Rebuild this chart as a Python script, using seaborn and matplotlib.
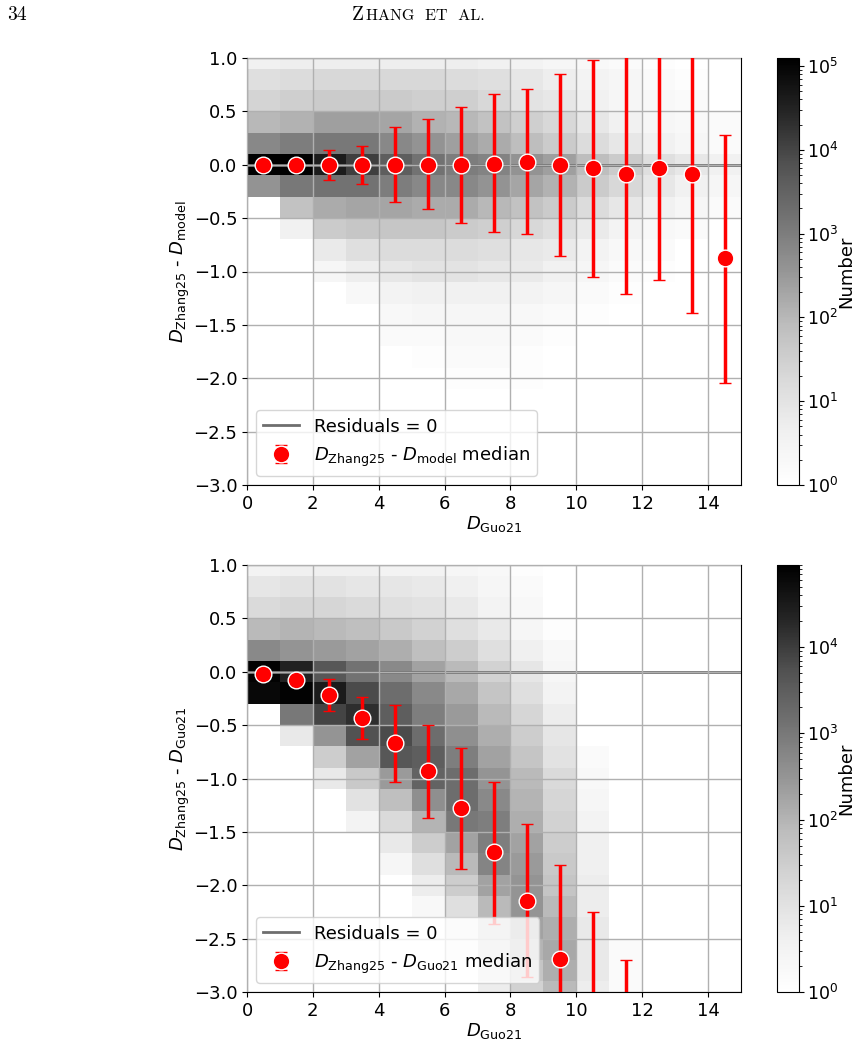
import numpy as np
import pandas as pd
import matplotlib
matplotlib.use("Agg")
import matplotlib.pyplot as plt
import seaborn as sns
from matplotlib.colors import LogNorm

# ================= data =================
D_GUO21_BINS = [0.5, 1.5, 2.5, 3.5, 4.5, 5.5, 6.5, 7.5, 8.5, 9.5, 10.5, 11.5, 12.5, 13.5, 14.5]

# upper panel: D_Zhang25 - D_model
MODEL_MEDIAN = [0.0, 0.0, 0.0, 0.0, 0.0, 0.0, 0.0, 0.01, 0.03, 0.0, -0.03, -0.09, -0.03, -0.09, -0.87]
MODEL_LOW = [-0.05, -0.05, -0.14, -0.18, -0.35, -0.415, -0.55, -0.63, -0.65, -0.855, -1.05, -1.21, -1.08, -1.39, -2.04]
MODEL_HIGH = [0.05, 0.05, 0.14, 0.18, 0.35, 0.43, 0.54, 0.66, 0.71, 0.85, 0.98, 1.3, 1.3, 1.3, 0.28]

# lower panel: D_Zhang25 - D_Guo21
GUO21_MEDIAN = [-0.02, -0.075, -0.22, -0.43, -0.67, -0.93, -1.28, -1.69, -2.145, -2.69, -3.3, -3.6]
GUO21_LOW = [-0.06, -0.12, -0.365, -0.63, -1.03, -1.37, -1.85, -2.36, -2.86, -3.5, -3.9, -4.2]
GUO21_HIGH = [0.02, -0.03, -0.07, -0.24, -0.31, -0.50, -0.715, -1.03, -1.43, -1.81, -2.25, -2.70]

# 2D histogram, log10(number) per cell; columns are D_Guo21 = 0-1, 1-2, ... 14-15
HIST_X_EDGES = [0, 1, 2, 3, 4, 5, 6, 7, 8, 9, 10, 11, 12, 13, 14, 15]
HIST_Y_CENTRES = [1.0, 0.8, 0.6, 0.4, 0.2, 0.0, -0.2, -0.4, -0.6, -0.8, -1.0,
                  -1.2, -1.4, -1.6, -1.8, -2.0, -2.2, -2.4, -2.6, -2.8, -3.0]

MODEL_LOG_COUNTS = [
    [0.6, 0.7, 0.7, 0.7, 0.7, 0.7, 0.7, 0.6, 0.5, 0.4, 0.3, 0.2, 0.1, 0.0, 0.0],
    [1.1, 1.2, 1.3, 1.3, 1.3, 1.3, 1.2, 1.1, 0.9, 0.7, 0.5, 0.4, 0.2, 0.1, 0.0],
    [1.4, 1.5, 1.6, 1.6, 1.6, 1.5, 1.5, 1.3, 1.0, 0.9, 0.6, 0.4, 0.3, 0.2, 0.0],
    [2.0, 2.1, 2.4, 2.4, 2.3, 2.1, 2.0, 1.8, 1.5, 1.3, 0.9, 0.6, 0.4, 0.3, 0.2],
    [2.8, 3.0, 3.1, 3.1, 2.8, 2.6, 2.4, 2.2, 1.9, 1.6, 1.2, 0.9, 0.6, 0.4, 0.2],
    [5.1, 5.1, 4.6, 4.1, 3.6, 3.2, 3.0, 2.9, 2.6, 2.4, 1.9, 1.6, 1.1, 0.9, 0.6],
    [2.6, 3.1, 3.2, 3.2, 3.0, 2.8, 2.8, 2.6, 2.3, 2.1, 1.6, 1.3, 0.9, 0.6, 0.4],
    [0.0, 1.8, 2.2, 2.3, 2.3, 2.2, 2.2, 2.0, 1.8, 1.6, 1.2, 0.9, 0.6, 0.4, 0.2],
    [0.0, 0.6, 1.6, 1.7, 1.7, 1.7, 1.6, 1.5, 1.3, 1.1, 0.8, 0.5, 0.3, 0.2, 0.0],
    [0.0, 0.0, 0.8, 1.1, 1.2, 1.2, 1.2, 1.1, 0.9, 0.8, 0.5, 0.3, 0.2, 0.0, 0.0],
    [0.0, 0.0, 0.4, 0.7, 0.9, 1.0, 1.0, 0.9, 0.8, 0.6, 0.4, 0.2, 0.1, 0.0, 0.0],
    [0.0, 0.0, 0.0, 0.3, 0.5, 0.6, 0.6, 0.6, 0.5, 0.4, 0.2, 0.1, 0.0, 0.0, 0.0],
    [0.0, 0.0, 0.0, 0.0, 0.3, 0.4, 0.4, 0.4, 0.3, 0.2, 0.1, 0.0, 0.0, 0.0, 0.0],
    [0.0, 0.0, 0.0, 0.0, 0.2, 0.2, 0.3, 0.3, 0.2, 0.1, 0.0, 0.0, 0.0, 0.0, 0.0],
    [0.0, 0.0, 0.0, 0.0, 0.0, 0.1, 0.2, 0.2, 0.1, 0.0, 0.0, 0.0, 0.0, 0.0, 0.0],
    [0.0, 0.0, 0.0, 0.0, 0.0, 0.0, 0.1, 0.1, 0.1, 0.0, 0.0, 0.0, 0.0, 0.0, 0.0],
    [0.0] * 15,
    [0.0] * 15,
    [0.0] * 15,
    [0.0] * 15,
    [0.0] * 15,
]

GUO21_LOG_COUNTS = [
    [0.5, 0.6, 0.6, 0.6, 0.5, 0.5, 0.4, 0.3, 0.1, 0.0, 0.0, 0.0, 0.0, 0.0, 0.0],
    [0.9, 1.0, 1.0, 0.9, 0.9, 0.8, 0.6, 0.4, 0.2, 0.0, 0.0, 0.0, 0.0, 0.0, 0.0],
    [1.2, 1.3, 1.3, 1.2, 1.1, 1.0, 0.8, 0.5, 0.3, 0.0, 0.0, 0.0, 0.0, 0.0, 0.0],
    [1.9, 2.0, 1.9, 1.8, 1.6, 1.4, 1.1, 0.8, 0.4, 0.1, 0.0, 0.0, 0.0, 0.0, 0.0],
    [2.7, 2.5, 2.4, 2.3, 2.1, 1.8, 1.5, 1.1, 0.6, 0.3, 0.0, 0.0, 0.0, 0.0, 0.0],
    [4.9, 4.4, 3.6, 3.1, 2.7, 2.3, 1.9, 1.4, 0.9, 0.4, 0.0, 0.0, 0.0, 0.0, 0.0],
    [4.8, 4.9, 4.5, 3.8, 3.2, 2.7, 2.2, 1.7, 1.1, 0.5, 0.0, 0.0, 0.0, 0.0, 0.0],
    [0.0, 3.0, 3.9, 4.2, 3.5, 2.9, 2.4, 1.9, 1.3, 0.7, 0.0, 0.0, 0.0, 0.0, 0.0],
    [0.0, 0.8, 2.5, 3.7, 3.8, 3.2, 2.6, 2.1, 1.5, 0.9, 0.0, 0.0, 0.0, 0.0, 0.0],
    [0.0, 0.0, 1.5, 2.3, 3.6, 3.5, 2.9, 2.3, 1.7, 1.0, 0.2, 0.0, 0.0, 0.0, 0.0],
    [0.0, 0.0, 0.8, 1.6, 2.4, 3.4, 3.2, 2.5, 1.9, 1.2, 0.3, 0.0, 0.0, 0.0, 0.0],
    [0.0, 0.0, 0.0, 1.0, 1.8, 2.6, 3.2, 2.7, 2.0, 1.3, 0.4, 0.0, 0.0, 0.0, 0.0],
    [0.0, 0.0, 0.0, 0.5, 1.2, 2.0, 3.0, 2.9, 2.1, 1.4, 0.5, 0.0, 0.0, 0.0, 0.0],
    [0.0, 0.0, 0.0, 0.0, 0.8, 1.5, 2.3, 2.9, 2.3, 1.5, 0.6, 0.0, 0.0, 0.0, 0.0],
    [0.0, 0.0, 0.0, 0.0, 0.4, 1.1, 1.9, 2.8, 2.4, 1.6, 0.6, 0.0, 0.0, 0.0, 0.0],
    [0.0, 0.0, 0.0, 0.0, 0.0, 0.7, 1.5, 2.3, 2.5, 1.7, 0.7, 0.0, 0.0, 0.0, 0.0],
    [0.0, 0.0, 0.0, 0.0, 0.0, 0.3, 1.1, 1.9, 2.5, 1.9, 0.7, 0.0, 0.0, 0.0, 0.0],
    [0.0, 0.0, 0.0, 0.0, 0.0, 0.0, 0.7, 1.6, 2.3, 2.1, 0.8, 0.0, 0.0, 0.0, 0.0],
    [0.0, 0.0, 0.0, 0.0, 0.0, 0.0, 0.4, 1.3, 2.0, 2.2, 0.8, 0.2, 0.0, 0.0, 0.0],
    [0.0, 0.0, 0.0, 0.0, 0.0, 0.0, 0.0, 1.0, 1.7, 2.1, 0.8, 0.2, 0.0, 0.0, 0.0],
    [0.0, 0.0, 0.0, 0.0, 0.0, 0.0, 0.0, 0.7, 1.4, 1.9, 0.7, 0.2, 0.0, 0.0, 0.0],
]

W, H = 856, 1042
FS = 13


def hist_frame(log_counts):
    rows = []
    for yc, row in zip(HIST_Y_CENTRES, log_counts):
        for j, v in enumerate(row):
            if v > 0:
                xc = (HIST_X_EDGES[j] + HIST_X_EDGES[j + 1]) / 2
                rows.append({"x": xc, "y": yc, "n": 10 ** v})
    return pd.DataFrame(rows)


def draw_panel(ax, cax, log_counts, vmax, median, low, high, ylabel, label):
    df = hist_frame(log_counts)
    y_edges = sorted([c - 0.1 for c in HIST_Y_CENTRES] + [HIST_Y_CENTRES[0] + 0.1])
    sns.histplot(data=df, x="x", y="y", weights="n", bins=[HIST_X_EDGES, y_edges],
                 cmap="Greys", norm=LogNorm(1, vmax), vmin=None, vmax=None,
                 cbar=True, cbar_ax=cax, ax=ax, zorder=0)

    ax.axhline(0, color="#6e6e6e", lw=2, zorder=2, label="Residuals = 0")

    xs = D_GUO21_BINS[:len(median)]
    med = np.array(median)
    yerr = [med - np.array(low), np.array(high) - med]
    ax.errorbar(xs, med, yerr=yerr, fmt="o", color="red", ms=12, mec="white", mew=1,
                elinewidth=2.5, capsize=4, capthick=1.5, zorder=3, label=label)

    ax.set_xlim(0, 15)
    ax.set_ylim(-3, 1)
    ax.set_xticks(range(0, 15, 2))
    ax.set_yticks(np.arange(-3, 1.01, 0.5))
    ax.grid(True, color="#b0b0b0", lw=1)
    ax.set_axisbelow(False)
    ax.set_xlabel(r"$D_\mathrm{Guo21}$", fontsize=FS, labelpad=1)
    ax.set_ylabel(ylabel, fontsize=FS, labelpad=1)
    ax.tick_params(labelsize=FS)
    ax.legend(loc="lower left", fontsize=FS)

    cax.tick_params(labelsize=12.5, pad=2)
    cax.set_ylabel("Number", fontsize=FS)
    cax.yaxis.set_label_coords(2.72, 0.5)


fig = plt.figure(figsize=(W / 100, H / 100), dpi=100)
ax1 = fig.add_axes([247 / W, 1 - 485 / H, 494 / W, 427 / H])
cax1 = fig.add_axes([777 / W, 1 - 485 / H, 22 / W, 427 / H])
ax2 = fig.add_axes([247 / W, 1 - 992 / H, 494 / W, 427 / H])
cax2 = fig.add_axes([777 / W, 1 - 992 / H, 22 / W, 427 / H])

draw_panel(ax1, cax1, MODEL_LOG_COUNTS, 1.25e5, MODEL_MEDIAN, MODEL_LOW, MODEL_HIGH,
           r"$D_\mathrm{Zhang25}$ - $D_\mathrm{model}$",
           r"$D_\mathrm{Zhang25}$ - $D_\mathrm{model}$ median")
draw_panel(ax2, cax2, GUO21_LOG_COUNTS, 9e4, GUO21_MEDIAN, GUO21_LOW, GUO21_HIGH,
           r"$D_\mathrm{Zhang25}$ - $D_\mathrm{Guo21}$",
           r"$D_\mathrm{Zhang25}$ - $D_\mathrm{Guo21}$ median")

# running page header
fig.text(7 / W, 1 - 20 / H, "34", fontname="cmr10", fontsize=14)
fig.text(352 / W, 1 - 20 / H, "Z", fontname="cmr10", fontsize=14)
fig.text(366 / W, 1 - 20 / H, "HANG  ET  AL.", fontname="cmr10", fontsize=11.5)

fig.savefig("out.png", dpi=100)
